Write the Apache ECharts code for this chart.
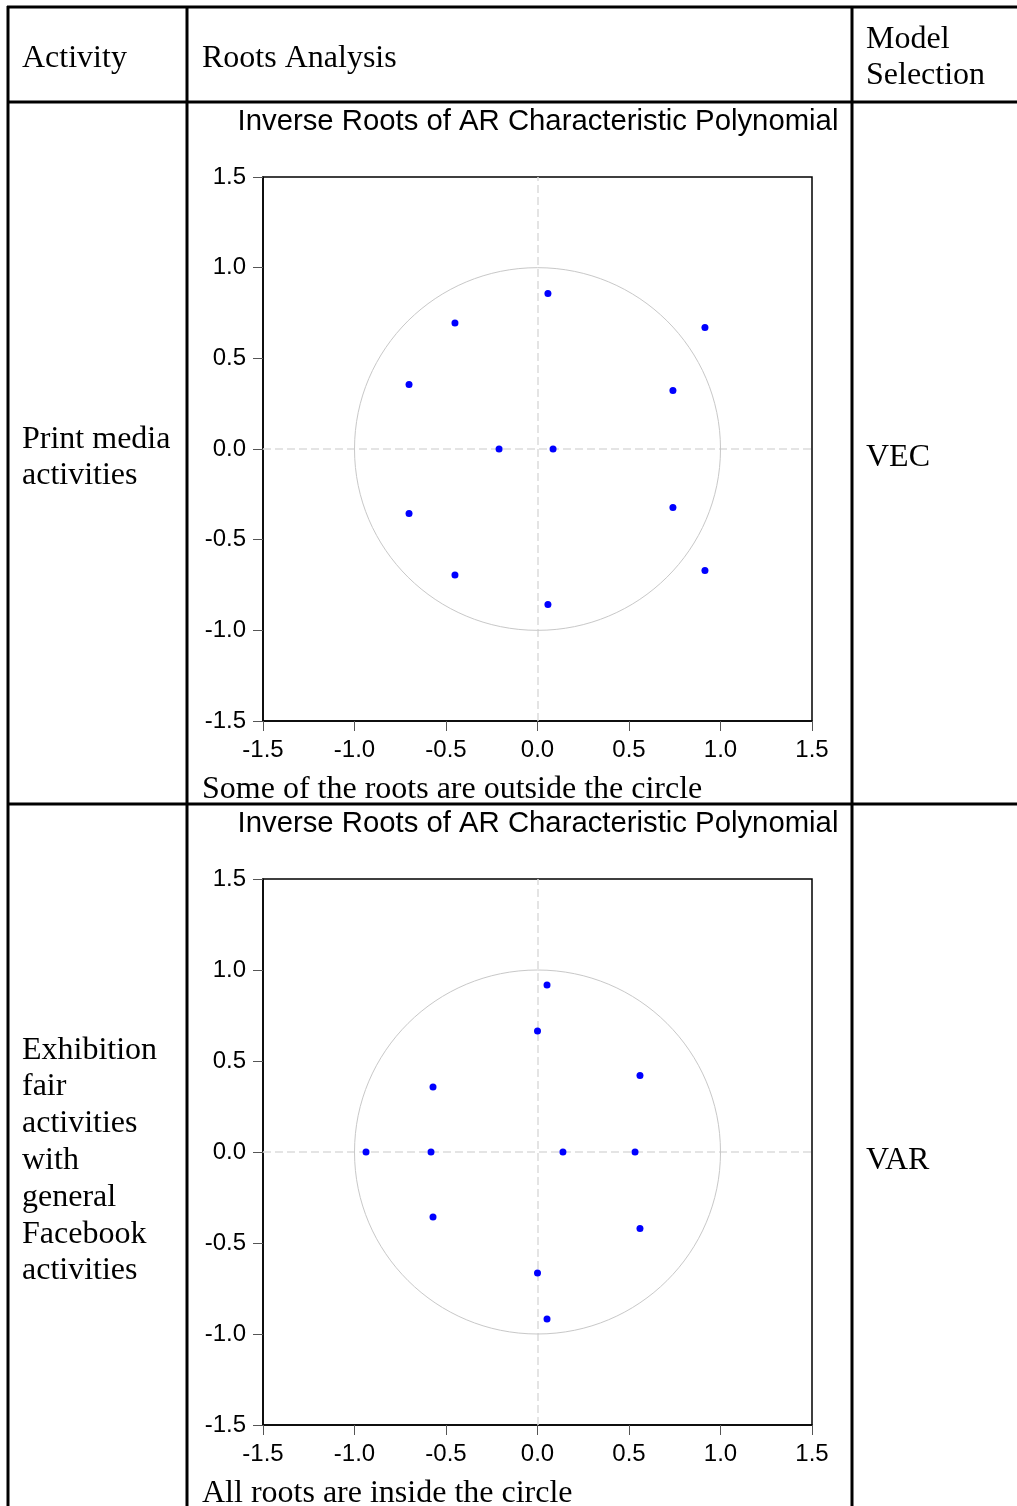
<!DOCTYPE html>
<html>
<head>
<meta charset="utf-8">
<script src="https://cdn.jsdelivr.net/npm/echarts@6/dist/echarts.min.js"></script>
<style>
html,body{margin:0;padding:0;background:#fff;}
#c{width:1017px;height:1506px;}
</style>
</head>
<body>
<div id="c"></div>
<script>
// ---- data ----
const axisMin = -1.5, axisMax = 1.5, axisStep = 0.5;
const unitCircle = [[0, 0, 1]];
// Print media activities: inverse roots (real, imaginary)
const printRe = [0.057, 0.057, -0.451, -0.451, 0.915, 0.915, -0.702, -0.702, 0.740, 0.740, -0.210, 0.085];
const printIm = [0.857, -0.857, 0.695, -0.695, 0.670, -0.670, 0.356, -0.356, 0.322, -0.322, 0.000, 0.000];
// Exhibition fair activities with general Facebook activities
const exhibRe = [0.052, 0.052, 0.000, 0.000, -0.571, -0.571, 0.560, 0.560, -0.937, -0.582, 0.139, 0.533];
const exhibIm = [0.918, -0.918, 0.665, -0.665, 0.357, -0.357, 0.420, -0.420, 0.000, 0.000, 0.000, 0.000];
const headers = ['Activity', 'Roots Analysis', 'Model\nSelection'];
const activities = ['Print media\nactivities', 'Exhibition\nfair\nactivities\nwith\ngeneral\nFacebook\nactivities'];
const models = ['VEC', 'VAR'];
const chartTitle = 'Inverse Roots of AR Characteristic Polynomial';
const notes = ['Some of the roots are outside the circle', 'All roots are inside the circle'];

const SERIF = '"Liberation Serif","Times New Roman",serif';
const SANS = '"Liberation Sans",Arial,sans-serif';

function pairs(re, im){ return re.map((r,i)=>[r, im[i]]); }

function makeAxis(idx){
  return {
    gridIndex: idx, min: axisMin, max: axisMax, interval: axisStep,
    axisLine: {show: true, onZero: false, lineStyle: {color: '#000', width: 1.5}},
    axisTick: {show: true, length: 10, lineStyle: {color: '#555', width: 1}},
    splitLine: {show: false},
    axisLabel: {formatter: v => v.toFixed(1), fontFamily: SANS, fontSize: 24, color: '#000', margin: 17,
                showMinLabel: true, showMaxLabel: true}
  };
}

const circleSeries = idx => ({
  type: 'custom', xAxisIndex: idx, yAxisIndex: idx, silent: true, z: 1,
  data: unitCircle,
  renderItem: function(params, api){
    const c = api.coord([api.value(0), api.value(1)]);
    const s = api.size([api.value(2), api.value(2)]);
    return {type: 'ellipse', shape: {cx: c[0], cy: c[1], rx: s[0], ry: s[1]},
            style: {fill: 'none', stroke: '#c8c8c8', lineWidth: 1}};
  },
  markLine: {silent: true, symbol: 'none', label: {show: false}, z: 1,
    lineStyle: {color: '#dcdcdc', type: [8, 4], width: 1.5},
    data: [{xAxis: 0}, {yAxis: 0}]}
});

const scatterSeries = (idx, data) => ({
  type: 'scatter', xAxisIndex: idx, yAxisIndex: idx, data: data, z: 5,
  symbol: 'circle', symbolSize: 7, itemStyle: {color: '#0000ff', opacity: 1}
});

const lineStyle = {stroke: '#000', lineWidth: 3};
function hline(y){ return {type:'line', shape:{x1:7, y1:y, x2:1017, y2:y}, style: lineStyle, z: 10}; }
function vline(x){ return {type:'line', shape:{x1:x, y1:6, x2:x, y2:1506}, style: lineStyle, z: 10}; }
function txt(t, x, y, font, align){
  return {type:'text', x: x, y: y, z: 10,
    style:{text: t, font: font, fill:'#000', textAlign: align || 'left', textVerticalAlign:'middle', lineHeight: 36.8}};
}
const serifFont = '32px ' + SERIF;
const titleFont = '29.3px ' + SANS;

const chart = echarts.init(document.getElementById('c'), null, {renderer: 'canvas'});
chart.setOption({
  backgroundColor: '#fff',
  animation: false,
  grid: [
    {left: 263, top: 177, width: 549, height: 544, show: true, borderColor: '#000', borderWidth: 1.5, backgroundColor: 'transparent'},
    {left: 263, top: 879, width: 549, height: 546, show: true, borderColor: '#000', borderWidth: 1.5, backgroundColor: 'transparent'}
  ],
  xAxis: [makeAxis(0), makeAxis(1)],
  yAxis: [makeAxis(0), makeAxis(1)],
  series: [
    circleSeries(0), scatterSeries(0, pairs(printRe, printIm)),
    circleSeries(1), scatterSeries(1, pairs(exhibRe, exhibIm))
  ],
  graphic: [
    hline(7), hline(102), hline(804),
    vline(8), vline(187), vline(852),
    txt(headers[0], 22, 58.5, serifFont),
    txt(headers[1], 202, 58.5, serifFont),
    txt(headers[2], 866, 57.5, serifFont),
    txt(activities[0], 22, 457.5, serifFont),
    txt(activities[1], 22, 1160.5, serifFont),
    txt(models[0], 866, 457.5, serifFont),
    txt(models[1], 866, 1160.5, serifFont),
    txt(chartTitle, 538, 122, titleFont, 'center'),
    txt(chartTitle, 538, 824, titleFont, 'center'),
    txt(notes[0], 202, 789.5, serifFont),
    txt(notes[1], 202, 1493.5, serifFont)
  ]
});
</script>
</body>
</html>
